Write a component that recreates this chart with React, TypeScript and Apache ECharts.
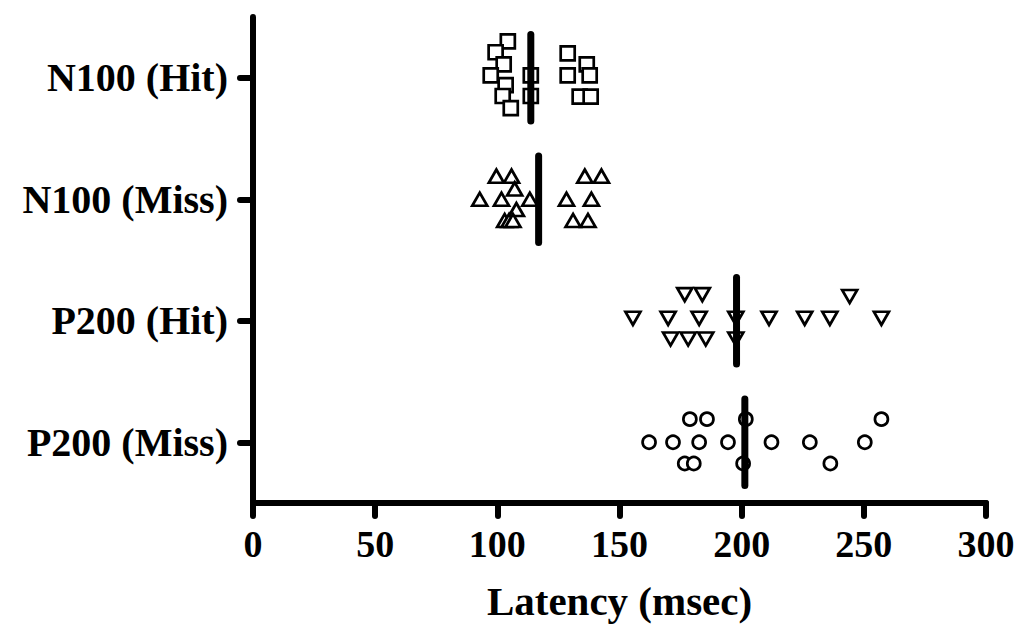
import React, { useEffect, useRef } from "react";
import * as echarts from "echarts";

const categories = ["N100 (Hit)", "N100 (Miss)", "P200 (Hit)", "P200 (Miss)"];
const xTicks = [0, 50, 100, 150, 200, 250, 300];

// [latency (msec), vertical jitter offset within the row]
const n100Hit: number[][] = [
  [104.3, -0.3], [99.3, -0.21], [102.6, -0.11], [97.3, -0.02], [103.4, 0.06], [102.2, 0.15], [105.5, 0.25],
  [113.7, -0.02], [113.7, 0.15],
  [128.8, -0.2], [136.6, -0.11], [128.8, -0.02], [137.8, -0.02], [133.7, 0.155], [138.2, 0.155],
];
const n100Miss: number[][] = [
  [99.6, -0.19], [105.8, -0.19], [107.1, -0.085], [92.8, 0.0], [101.7, 0.0], [113.3, 0.0], [107.8, 0.085],
  [103.0, 0.175], [104.8, 0.175], [106.4, 0.175],
  [135.8, -0.19], [142.6, -0.19], [128.3, 0.0], [138.5, 0.0], [131.0, 0.175], [137.1, 0.175],
];
const p200Hit: number[][] = [
  [176.7, -0.215], [183.9, -0.215], [244.2, -0.2],
  [155.5, -0.02], [169.9, -0.02], [182.6, -0.02], [197.6, -0.02], [211.2, -0.02], [225.8, -0.02], [236.1, -0.02], [257.2, -0.02],
  [170.9, 0.15], [178.1, 0.15], [185.3, 0.15], [197.6, 0.15],
];
const p200Miss: number[][] = [
  [178.8, -0.19], [185.8, -0.19], [201.7, -0.19], [257.2, -0.19],
  [162.1, 0.0], [171.9, 0.0], [182.6, 0.0], [194.4, 0.0], [212.2, 0.0], [227.9, 0.0], [250.4, 0.0],
  [176.7, 0.175], [180.4, 0.175], [200.6, 0.175], [236.3, 0.175],
];
const means = [113.7, 116.9, 197.9, 201.3];
const meanHalfSpan = 0.355;

const SERIF = "'Liberation Serif', 'Times New Roman', Times, serif";

export default function App() {
  const ref = useRef<HTMLDivElement>(null);
  useEffect(() => {
    if (!ref.current) return;
    const chart = echarts.init(ref.current, null, { renderer: "svg" });
    const groups = [n100Hit, n100Miss, p200Hit, p200Miss];
    const symbols = ["rect", "triangle", "triangle", "circle"];
    const rotates = [0, 0, 180, 0];
    const sizes: any[] = [14, [15, 13], [15, 13], 13];
    const series: any[] = [];
    groups.forEach((g, i) => {
      series.push({
        type: "scatter",
        name: categories[i],
        xAxisIndex: 0,
        yAxisIndex: 1,
        symbol: symbols[i],
        symbolRotate: rotates[i],
        symbolSize: sizes[i],
        itemStyle: { color: "#fff", borderColor: "#000", borderWidth: 2.7, opacity: 1 },
        data: g.map((p) => [p[0], i + p[1]]),
        z: 2,
      });
    });
    means.forEach((m, i) => {
      series.push({
        type: "line",
        xAxisIndex: 0,
        yAxisIndex: 1,
        symbol: "none",
        lineStyle: { color: "#000", width: 7, cap: "round" },
        data: [[m, i - meanHalfSpan], [m, i + meanHalfSpan]],
        z: 5,
      });
    });
    chart.setOption({
      animation: false,
      backgroundColor: "#fff",
      grid: { left: 253, right: 34, top: 17, bottom: 122, containLabel: false },
      xAxis: {
        type: "value",
        min: 0,
        max: 300,
        interval: 50,
        name: "Latency (msec)",
        nameLocation: "middle",
        nameGap: 77,
        nameTextStyle: { fontFamily: SERIF, fontWeight: "bold", fontSize: 41, color: "#000" },
        axisLine: { show: true, onZero: false, lineStyle: { color: "#000", width: 6, cap: "round" } },
        axisTick: { show: true, length: 13, lineStyle: { color: "#000", width: 6, cap: "round" } },
        axisLabel: {
          margin: 22,
          fontFamily: SERIF,
          fontWeight: "bold",
          fontSize: 38,
          color: "#000",
          formatter: (v: number) => (xTicks.includes(v) ? String(v) : ""),
        },
        splitLine: { show: false },
      },
      yAxis: [
        {
          type: "category",
          data: categories,
          inverse: true,
          boundaryGap: true,
          axisLine: { show: true, onZero: false, lineStyle: { color: "#000", width: 6, cap: "round" } },
          axisTick: { show: true, alignWithLabel: true, length: 13, lineStyle: { color: "#000", width: 6, cap: "round" } },
          axisLabel: {
            margin: 25,
            fontFamily: SERIF,
            fontWeight: "bold",
            fontSize: 40,
            color: "#000",
          },
          splitLine: { show: false },
        },
        {
          type: "value",
          min: -0.5,
          max: 3.5,
          inverse: true,
          show: false,
          splitLine: { show: false },
        },
      ],
      series,
    });
    return () => chart.dispose();
  }, []);
  return (
    <div
      ref={ref}
      style={{ position: "fixed", left: 0, top: 0, width: 1020, height: 626, background: "#fff" }}
    />
  );
}
